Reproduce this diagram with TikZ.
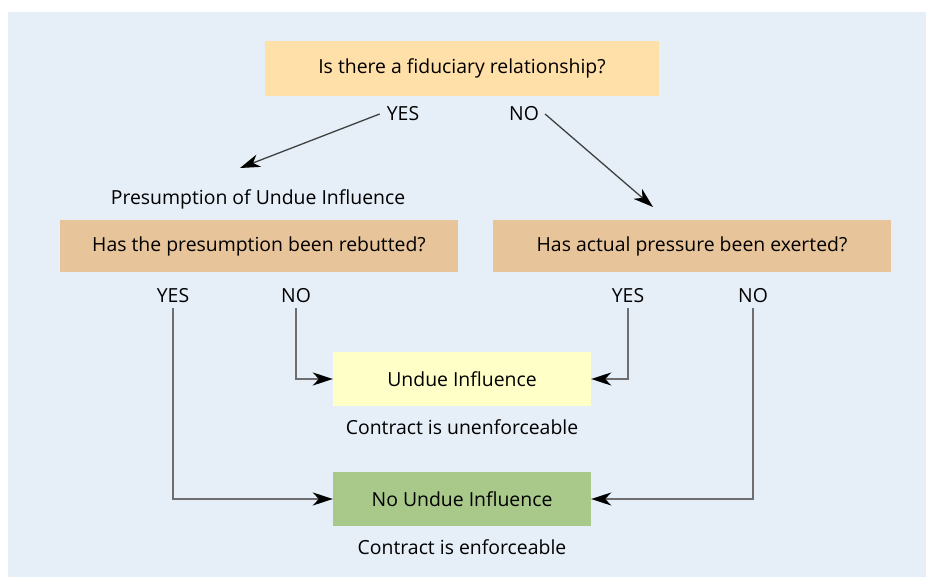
\documentclass[tikz,border=0pt]{standalone}
\usepackage{fontspec}
\setmainfont{Open Sans}
\usetikzlibrary{arrows.meta,positioning}
\definecolor{bgblue}{HTML}{E6EEF8}
\definecolor{qorange}{HTML}{FFE0A8}
\definecolor{qtan}{HTML}{E8C49A}
\definecolor{ryellow}{HTML}{FFFFC8}
\definecolor{rgreen}{HTML}{A8C98A}
\definecolor{lgrey}{HTML}{6E6E70}
\begin{document}
\begin{tikzpicture}[
    x=1pt, y=-1pt,
    font=\fontsize{19.4}{23}\selectfont,
    box/.style={
		rectangle,
		inner sep=0pt,
		text centered,
		minimum height=53pt
	},
	question/.style={box, fill=qorange, minimum width=394pt, minimum height=55pt},
	subquestion/.style={box, fill=qtan, minimum width=398pt, minimum height=52pt},
	result/.style={box, minimum width=258pt, minimum height=54pt},
	answer/.style={inner sep=0pt},
	note/.style={inner sep=0pt},
	diag/.style={draw=black!75, line width=1.3pt, -{Stealth[length=20pt, width=13pt, inset=6pt, black]}},
	elbow/.style={draw=lgrey, line width=1.8pt, -{Stealth[length=20pt, width=13pt, inset=6pt, black]}}
  ]
  % background
  \useasboundingbox (0,0) rectangle (926,577);
  \fill [bgblue] (8,12) rectangle (926,577);

  % the blocks
  \node [question] (fiduciary) at (462,68.5) {Is there a fiduciary relationship?};
  \node [subquestion] (rebutted) at (259,246) {Has the presumption been rebutted?};
  \node [subquestion] (pressure) at (692,246) {Has actual pressure been exerted?};
  \node [result, fill=ryellow] (undue) at (462,379) {Undue Influence};
  \node [result, fill=rgreen] (noundue) at (462,499) {No Undue Influence};

  % texts under the blocks
  \node [note] (presumption) at (258,199) {Presumption of Undue Influence};
  \node [note] (unenforce) at (462,427) {Contract is unenforceable};
  \node [note] (enforce) at (462,547) {Contract is enforceable};

  % answers
  \node [answer] (yes1) at (403,114) {YES};
  \node [answer] (no1) at (524,114) {NO};
  \node [answer] (yes2) at (173,296) {YES};
  \node [answer] (no2) at (296,296) {NO};
  \node [answer] (yes3) at (628,296) {YES};
  \node [answer] (no3) at (753,296) {NO};

  \coordinate (yestip) at (240,168);
  \coordinate (notip) at (653,207);

  % connectors
  \draw [diag] ([xshift=-7pt]yes1.west) -- (yestip);
  \draw [diag] ([xshift=6pt]no1.east) -- (notip);
  \draw [elbow] ([yshift=-5pt]yes2.south) |- (noundue.west);
  \draw [elbow] ([yshift=-5pt]no2.south) |- (undue.west);
  \draw [elbow] ([yshift=-5pt]yes3.south) |- (undue.east);
  \draw [elbow] ([yshift=-5pt]no3.south) |- (noundue.east);
\end{tikzpicture}
\end{document}
